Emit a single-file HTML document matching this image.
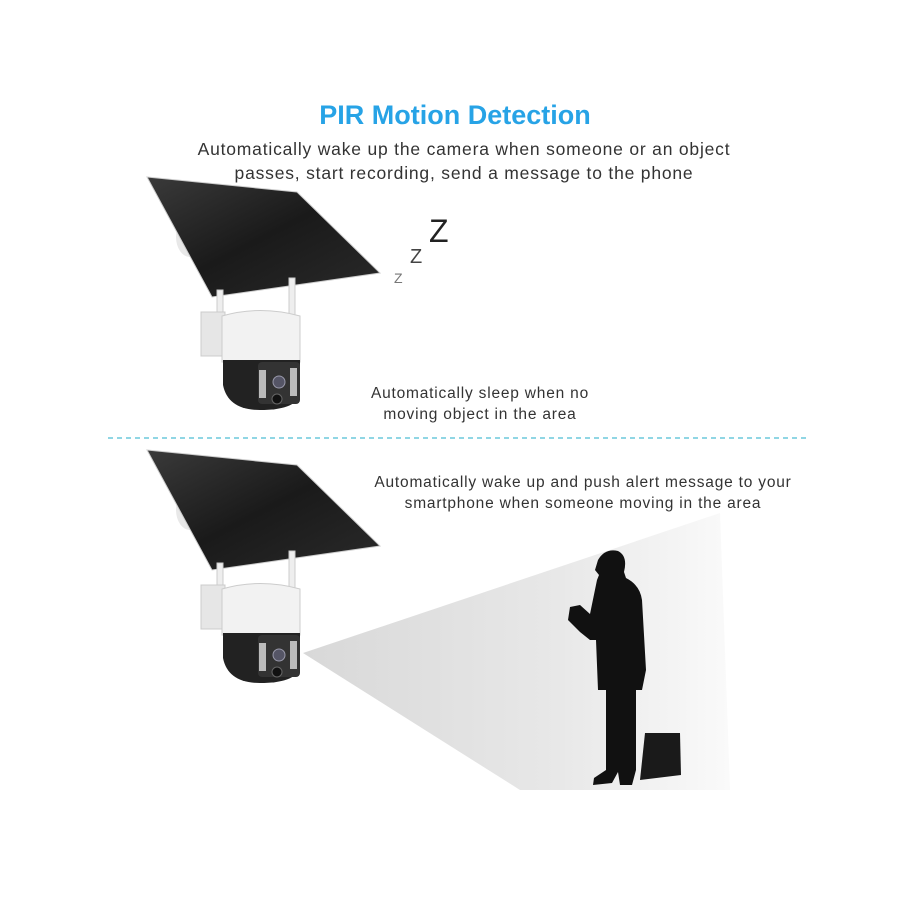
<!DOCTYPE html>
<html><head><style>
body{margin:0;background:#fff;width:900px;height:900px;overflow:hidden;position:relative;font-family:"Liberation Sans",Arial,sans-serif}
.t{position:absolute;text-align:center;color:#333;white-space:nowrap}
</style></head><body>
<svg width="900" height="900" style="position:absolute;left:0;top:0">
<defs>
<linearGradient id="pn" x1="0" y1="0" x2="1" y2="1"><stop offset="0" stop-color="#3a3a3a"/><stop offset="0.5" stop-color="#1a1a1a"/><stop offset="1" stop-color="#2a2a2a"/></linearGradient>
<linearGradient id="cone" x1="0" y1="0" x2="1" y2="0"><stop offset="0" stop-color="#d8d8d8"/><stop offset="0.6" stop-color="#e8e8e8"/><stop offset="1" stop-color="#fafafa"/></linearGradient>
<g id="cam">
<ellipse cx="190" cy="237" rx="14" ry="20" fill="#e8e8e8"/>
<polygon points="147,177 297,192 380,273 212,297" fill="url(#pn)" stroke="#ccc" stroke-width="1"/>
<rect x="217" y="290" width="6" height="30" fill="#eee" stroke="#ccc"/>
<rect x="289" y="278" width="6" height="38" fill="#eee" stroke="#ccc"/>
<rect x="201" y="312" width="24" height="44" fill="#e6e6e6" stroke="#ccc"/>
<path d="M222,316 Q260,305 300,316 L300,362 L222,362 Z" fill="#f2f2f2" stroke="#ccc"/>
<path d="M223,360 L300,360 L300,395 Q295,410 260,410 Q228,410 223,385 Z" fill="#222"/>
<rect x="258" y="362" width="42" height="42" rx="4" fill="#333"/>
<rect x="259" y="370" width="7" height="28" fill="#bbb"/>
<rect x="290" y="368" width="7" height="28" fill="#bbb"/>
<circle cx="279" cy="382" r="6" fill="#556" stroke="#99a"/>
<circle cx="277" cy="399" r="5" fill="#111" stroke="#666"/>
</g>
</defs>
<use href="#cam"/>
<line x1="108" y1="438" x2="808" y2="438" stroke="#6cc8dc" stroke-width="1.5" stroke-dasharray="5,4"/>
<polygon points="303,653 720,513 730,790 520,790" fill="url(#cone)"/>
<use href="#cam" y="273"/>
<path d="M598,560 Q605,548 618,551 Q628,556 624,572 L626,578 Q640,585 642,600 L646,670 L642,690 L636,690 L636,770 L632,785 L620,785 L618,772 L612,783 L593,785 L594,778 L606,770 L606,690 L598,690 L596,640 L590,640 L580,632 L568,620 L570,607 L580,605 L590,614 L597,580 L599,575 L595,570 Z" fill="#111"/>
<path d="M645,733 L680,733 L681,775 L640,780 Z" fill="#1a1a1a"/>
</svg>
<div class="t" style="left:0;width:910px;top:100px;font-size:27px;font-weight:bold;color:#27a3e6">PIR Motion Detection</div>
<div class="t" style="left:150px;width:628px;top:137px;font-size:17.5px;letter-spacing:0.8px;line-height:24px">Automatically wake up the camera when someone or an object<br>passes, start recording, send a message to the phone</div>
<div class="t" style="left:429px;top:213px;font-size:32px;color:#222">Z</div>
<div class="t" style="left:410px;top:246px;font-size:20px;color:#444">Z</div>
<div class="t" style="left:394px;top:270px;font-size:14px;color:#777">Z</div>
<div class="t" style="left:340px;width:280px;top:383px;font-size:15.5px;letter-spacing:0.8px;line-height:21px">Automatically sleep when no<br>moving object in the area</div>
<div class="t" style="left:340px;width:486px;top:472px;font-size:15.5px;letter-spacing:0.8px;line-height:21px">Automatically wake up and push alert message to your<br>smartphone when someone moving in the area</div>
</body></html>
